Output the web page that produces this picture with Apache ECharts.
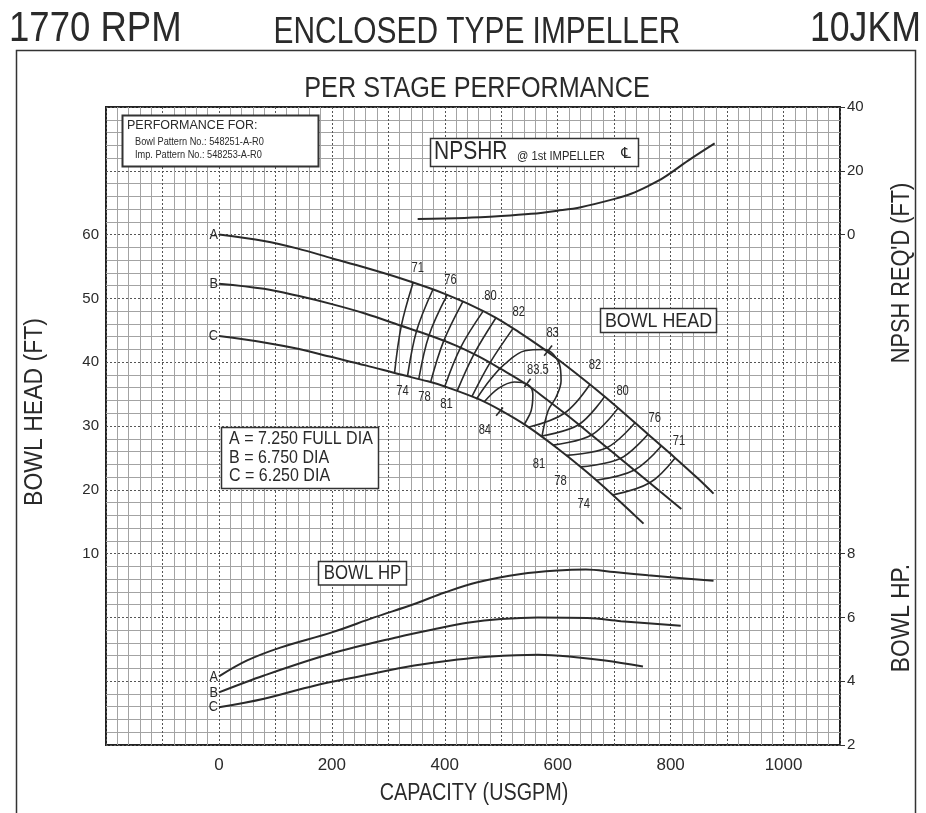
<!DOCTYPE html>
<html><head><meta charset="utf-8">
<script src="https://cdn.jsdelivr.net/npm/echarts@6/dist/echarts.min.js"></script>
<style>html,body{margin:0;padding:0;background:#fff}#c{width:926px;height:813px}</style>
</head><body><div id="c"></div><script>
// ---------- data (capacity USGPM, head FT / NPSH FT / HP) ----------
const capLabels = [0, 200, 400, 600, 800, 1000];
const headLabels = [10, 20, 30, 40, 50, 60];
const npshLabels = [0, 20, 40];
const hpLabels = [2, 4, 6, 8];

const headA = [[0,60],[80,59.0],[140,57.8],[200,56.3],[260,54.8],[320,53.2],[370,51.7],[400,50.7],[450,48.8],[490,47.0],[530,44.8],[570,42.4],[610,39.8],[660,36.3],[710,32.6],[760,28.7],[808,25.0],[848,21.8],[876,19.4]];
const headB = [[0,52.3],[80,51.5],[140,50.4],[200,49.1],[260,47.6],[320,45.8],[370,44.3],[420,42.6],[460,40.9],[500,38.9],[545,36.5],[580,34.2],[618,31.6],[660,28.6],[700,25.7],[760,21.3],[819,17.0]];
const headC = [[0,44.1],[80,43.1],[140,42.1],[200,40.8],[260,39.5],[320,38.1],[370,37.0],[400,36.2],[460,34.2],[500,32.4],[547,29.9],[601,26.4],[650,22.9],[700,19.0],[752,14.7]];

const npshr = [[352,4.9],[435,5.2],[500,5.8],[553,6.5],[600,7.5],[641,8.6],[701,11.2],[730,12.8],[760,15.2],[789,18.0],[831,23.2],[878,28.6]];

const hpA = [[0,4.15],[50,4.65],[110,5.06],[200,5.53],[275,6.0],[346,6.42],[400,6.78],[458,7.10],[535,7.36],[600,7.47],[650,7.5],[700,7.42],[760,7.32],[820,7.23],[876,7.15]];
const hpB = [[0,3.65],[80,4.18],[198,4.86],[316,5.38],[387,5.65],[440,5.83],[500,5.95],[565,6.0],[653,5.98],[712,5.88],[818,5.74]];
const hpC = [[0,3.18],[80,3.45],[169,3.86],[257,4.18],[346,4.49],[423,4.68],[476,4.77],[565,4.83],[624,4.77],[684,4.65],[751,4.46]];

// iso-efficiency lines (points on A, B, C)
const eff71L = [[344,52.5],[323,45.7],[311,38.3]];
const eff74L = [[379,51.4],[350,44.9],[334,37.8]];
const eff76L = [[404,50.5],[372,44.2],[354,37.4]];
const eff78L = [[432,49.5],[398,43.3],[375,36.9]];
const eff80L = [[468,48.0],[428,42.3],[400,36.2]];
const eff81L = [[491,47.0],[452,41.3],[422,35.5]];
const eff82L = [[521,45.3],[480,39.9],[448,34.6]];
const eff83 = [[456,34.2],[480,37.2],[506,39.7],[542,41.8],[577,42.0],[603,39.7],[606,37.1],[597,34.5],[583,32.4],[572,28.3]];
const eff835 = [[470,33.8],[495,35.9],[523,36.9],[547,36.5],[556,35.0],[553,32.4],[541,30.3]];
const eff82R = [[657,36.5],[612,32.0],[548,29.8]];
const eff81R = [[683,34.6],[637,30.2],[570,28.4]];
const eff80R = [[707,32.8],[660,28.6],[592,27.0]];
const eff78R = [[737,30.5],[687,26.6],[615,25.4]];
const eff76R = [[760,28.7],[711,24.9],[640,23.6]];
const eff74R = [[784,26.9],[736,23.1],[668,21.5]];
const eff71R = [[808,25.0],[763,21.1],[698,19.2]];

const tick83 = [[576,41.0],[590,42.6]];
const tick835 = [[541,36.1],[552,37.4]];
const tick84 = [[491,31.6],[503,32.9]];

const effLabels = [[352,54.7,'71'],[410,52.8,'76'],[481,50.3,'80'],[531,47.8,'82'],[591,44.6,'83'],
  [325,35.5,'74'],[364,34.5,'78'],[403,33.4,'81'],[471,29.3,'84'],[565,38.7,'83.5'],
  [666,39.5,'82'],[715,35.5,'80'],[772,31.3,'76'],[815,27.7,'71'],
  [567,24.1,'81'],[605,21.4,'78'],[646,17.8,'74']];
const headLetters = [['A',0,60],['B',0,52.3],['C',0,44.1]];
const hpLetters = [['A',0,4.15],['B',0,3.65],['C',0,3.18]];

// ---------- chart ----------
const FR = "'Liberation Sans',Arial,sans-serif";
const INK = '#2a2a2a';
const chart = echarts.init(document.getElementById('c'), null, {renderer:'canvas'});

function lineSeries(data, yIdx, w) {
  return {type:'line', data:data, yAxisIndex:yIdx, smooth:0.35, showSymbol:false, symbol:'none',
    lineStyle:{color:INK, width:w}, silent:true, z:3};
}
function textSeries(list, yIdx, size, align, dx, sx) {
  return {type:'custom', yAxisIndex:yIdx, silent:true, z:5,
    data: list.map(d => [d[0], d[1]]),
    renderItem: (params, api) => {
      const p = api.coord([api.value(0), api.value(1)]);
      return {type:'text', x:p[0] + dx, y:p[1], scaleX:sx,
        style:{text:list[params.dataIndex][2], fill:INK, font:size + 'px ' + FR,
          textAlign:align, textVerticalAlign:'middle'}};
    }};
}
const contours = [eff71L,eff74L,eff76L,eff78L,eff80L,eff81L,eff82L,eff83,eff835,eff82R,eff81R,eff80R,eff78R,eff76R,eff74R,eff71R,tick83,tick835,tick84];

const series = [
  lineSeries(headA,0,2), lineSeries(headB,0,2), lineSeries(headC,0,2),
  lineSeries(npshr,1,2),
  lineSeries(hpA,2,2), lineSeries(hpB,2,2), lineSeries(hpC,2,2)
].concat(contours.map(d => lineSeries(d,0,1.6)));
series.push(textSeries(effLabels, 0, 14, 'center', 0, 0.8));
series.push(textSeries(headLetters.map(d => [d[1], d[2], d[0]]), 0, 15, 'right', -1, 0.85));
series.push(textSeries(hpLetters.map(d => [d[1], d[2], d[0]]), 2, 15, 'right', -1, 0.85));

function T(text, x, y, size, sx, align, rot, font) {
  return {type:'text', x:x, y:y, rotation:rot || 0, scaleX:sx, silent:true, z:100,
    style:{text:text, x:0, y:0, fill:INK, stroke:'none', lineWidth:0,
      font:size + 'px ' + (font || FR), textAlign:align || 'left', textVerticalAlign:'middle'}};
}
function B(x, y, w, h, lw) {
  return {type:'rect', shape:{x:x, y:y, width:w, height:h}, silent:true, z:99,
    style:{fill:'#fff', stroke:'#333', lineWidth:lw || 1.5}};
}

const axisLbl = {color:INK, fontFamily:FR, fontSize:15};
const option = {
  backgroundColor:'#fff',
  animation:false,
  grid:{left:106, top:107, width:734, height:638, show:true, borderColor:'#222', borderWidth:2, backgroundColor:'transparent'},
  xAxis:{type:'value', min:-200, max:1100, interval:100,
    axisLine:{show:false}, axisTick:{show:false},
    axisLabel:{...axisLbl, fontSize:17, margin:12, customValues:capLabels,
      formatter:v => capLabels.includes(v) ? String(v) : ''},
    splitLine:{show:true, lineStyle:{color:'#555', type:[2,2], width:1}},
    minorTick:{show:false, splitNumber:5},
    minorSplitLine:{show:true, lineStyle:{color:'#a3a3a3', width:1}}},
  yAxis:[
    {type:'value', min:-20, max:80, interval:10, position:'left',
      axisLine:{show:false}, axisTick:{show:false},
      axisLabel:{...axisLbl, margin:7, customValues:headLabels,
        formatter:v => headLabels.includes(v) ? String(v) : ''},
      splitLine:{show:true, lineStyle:{color:'#555', type:[2,2], width:1}},
      minorTick:{show:false, splitNumber:5},
      minorSplitLine:{show:true, lineStyle:{color:'#a3a3a3', width:1}}},
    {type:'value', min:-160, max:40, interval:20, position:'right',
      axisLine:{show:false}, splitLine:{show:false},
      axisTick:{show:true, inside:false, length:5, customValues:npshLabels, lineStyle:{color:'#333'}},
      axisLabel:{...axisLbl, margin:7, customValues:npshLabels,
        formatter:v => npshLabels.includes(v) ? String(v) : ''}},
    {type:'value', min:2, max:22, interval:2, position:'right',
      axisLine:{show:false}, splitLine:{show:false},
      axisTick:{show:true, inside:false, length:5, customValues:hpLabels, lineStyle:{color:'#333'}},
      axisLabel:{...axisLbl, margin:7, customValues:hpLabels,
        formatter:v => hpLabels.includes(v) ? String(v) : ''}}
  ],
  series:series,
  graphic:[
    {type:'rect', shape:{x:16.5,y:50.5,width:899,height:790}, style:{fill:'none', stroke:'#333', lineWidth:1.5}, silent:true},
    T('1770 RPM', 9, 29, 43, 0.85, 'left'),
    T('ENCLOSED TYPE IMPELLER', 477, 33, 36, 0.83, 'center'),
    T('10JKM', 921, 29, 43, 0.83, 'right'),
    T('PER STAGE PERFORMANCE', 477, 89, 30, 0.84, 'center'),
    T('BOWL HEAD (FT)', 35, 412, 25, 0.92, 'center', Math.PI/2),
    T("NPSH REQ'D (FT)", 902, 273, 25, 0.87, 'center', Math.PI/2),
    T('BOWL HP.', 902, 618, 25, 0.91, 'center', Math.PI/2),
    T('CAPACITY (USGPM)', 474, 794, 23, 0.86, 'center'),
    // performance box
    B(122.5, 115.5, 196, 51, 2),
    T('PERFORMANCE FOR:', 127, 126, 12.5, 1, 'left'),
    T('Bowl Pattern No.: 548251-A-R0', 135, 141.5, 11.5, 0.8, 'left'),
    T('Imp. Pattern No.: 548253-A-R0', 135, 154.5, 11.5, 0.8, 'left'),
    // NPSHR box
    B(430.5, 138.5, 208, 28),
    T('NPSHR', 434, 152, 25, 0.84, 'left'),
    T('@ 1st IMPELLER', 517, 156, 13, 0.86, 'left'),
    T('\u2104', 626, 154, 15, 1, 'center', 0, "'DejaVu Sans',sans-serif"),
    // BOWL HEAD box
    B(600.5, 308.5, 116, 24),
    T('BOWL HEAD', 658.5, 321, 21, 0.85, 'center'),
    // BOWL HP box
    B(318.5, 561.5, 88, 23.5),
    T('BOWL HP', 362.5, 573.5, 20, 0.84, 'center'),
    // diameter legend box
    B(221.5, 427.5, 157, 61),
    T('A = 7.250 FULL DIA', 229, 439, 18, 0.89, 'left'),
    T('B = 6.750 DIA', 229, 458, 18, 0.89, 'left'),
    T('C = 6.250 DIA', 229, 476.5, 18, 0.89, 'left')
  ]
};
chart.setOption(option);
</script></body></html>
